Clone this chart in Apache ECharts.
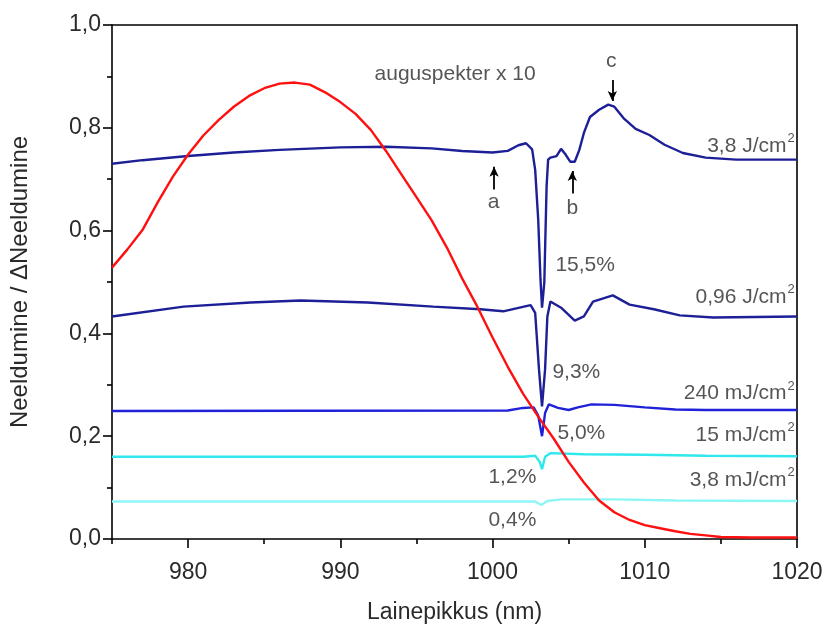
<!DOCTYPE html>
<html><head><meta charset="utf-8">
<script src="https://cdn.jsdelivr.net/npm/echarts@6/dist/echarts.min.js"></script>
<style>html,body{margin:0;padding:0;background:#fff}#c{width:831px;height:629px}</style>
</head><body><div id="c"></div>
<script>
// ---- data (wavelength nm, value) ----
const redX = [975,976,977,978,979,980,981,982,983,984,985,986,987,988,989,990,991,992,993,994,995,996,997,998,999,1000,1001,1002,1003,1004,1005,1006,1007,1008,1009,1010,1011,1012,1013,1014,1015,1017,1020];
const redY = [0.528,0.563,0.601,0.655,0.705,0.748,0.785,0.815,0.841,0.862,0.877,0.886,0.888,0.884,0.869,0.850,0.827,0.796,0.755,0.710,0.665,0.620,0.567,0.507,0.452,0.392,0.335,0.283,0.238,0.196,0.150,0.110,0.075,0.052,0.037,0.027,0.021,0.015,0.010,0.007,0.004,0.003,0.003];

const j38X = [975,977,980,983,986,990,993,996,998,1000,1001,1001.7,1002.2,1002.6,1002.8,1003.0,1003.15,1003.25,1003.4,1003.55,1003.65,1003.8,1004.2,1004.5,1004.8,1005.1,1005.4,1005.7,1006.0,1006.4,1007.0,1007.6,1008.0,1008.6,1009.4,1010.3,1011.3,1012.5,1014,1016,1020];
const j38Y = [0.730,0.737,0.745,0.752,0.757,0.762,0.763,0.760,0.755,0.752,0.755,0.766,0.770,0.758,0.718,0.621,0.505,0.450,0.499,0.686,0.738,0.742,0.745,0.759,0.748,0.734,0.734,0.757,0.790,0.821,0.835,0.845,0.841,0.819,0.798,0.786,0.767,0.751,0.742,0.738,0.738];

const j096X = [975,979.7,984.1,987.4,991.8,996.1,999.2,1000.7,1002.5,1002.8,1003.05,1003.25,1003.45,1003.6,1003.8,1004.5,1005.4,1006.0,1006.6,1007.9,1009.0,1010.6,1012.3,1014.5,1020];
const j096Y = [0.433,0.452,0.460,0.464,0.460,0.452,0.447,0.443,0.455,0.440,0.330,0.258,0.330,0.433,0.462,0.450,0.425,0.433,0.462,0.474,0.456,0.447,0.435,0.431,0.433];

const m240X = [975,1001,1002,1002.7,1003.0,1003.25,1003.45,1003.7,1004.3,1005,1005.6,1006.5,1008,1010,1012,1014,1020];
const m240Y = [0.249,0.250,0.255,0.256,0.240,0.200,0.245,0.262,0.255,0.251,0.256,0.262,0.261,0.256,0.252,0.251,0.251];

const m15X = [975,1002,1002.8,1003.1,1003.25,1003.45,1003.8,1006,1010,1014,1020];
const m15Y = [0.160,0.160,0.162,0.150,0.136,0.160,0.167,0.165,0.164,0.162,0.161];

const m38X = [975,1002.8,1003.2,1003.6,1004.5,1008,1012,1020];
const m38Y = [0.073,0.073,0.066,0.074,0.077,0.077,0.075,0.074];

const xMajorTicks = [980,990,1000,1010,1020];
const xMinorTicks = [975,985,995,1005,1015];

// annotation texts
const curveLabels = ['3,8 J/cm', '0,96 J/cm', '240 mJ/cm', '15 mJ/cm', '3,8 mJ/cm'];
const pctLabels = ['15,5%', '9,3%', '5,0%', '1,2%', '0,4%'];
const titleText = 'auguspekter x 10';
const arrowLetters = ['a', 'b', 'c'];

// ---- layout (annotation anchors in data coords) ----
const curveLabelPos = [[1019.85,0.765],[1019.85,0.470],[1019.85,0.283],[1019.85,0.202],[1019.85,0.115]];
const pctLabelPos = [[1004.13,0.532],[1003.93,0.324],[1004.26,0.206],[999.73,0.120],[999.73,0.037]];
const titlePos = [992.25,0.905];
const letterPos = [[1000.06,0.656],[1005.24,0.643],[1007.8,0.930]];
const arrowSegs = [[[1000.1,0.680],[1000.1,0.724]],[[1005.24,0.672],[1005.24,0.716]],[[1007.87,0.893],[1007.87,0.852]]];

const pairs = (xs, ys) => xs.map((x, i) => [x, ys[i]]);
const txt = '#2a2a2a';
const FONT = 'Liberation Sans, Arial, sans-serif';

function lineSeries(name, xs, ys, color) {
  return { name, type: 'line', data: pairs(xs, ys), showSymbol: false, symbol: 'none',
    lineStyle: { color, width: 2.4 }, silent: true, animation: false, z: 3 };
}

const annData = [];
curveLabels.forEach((t, i) => annData.push({ value: curveLabelPos[i],
  label: { formatter: '{t|' + t + '}{s|2}', align: 'right' } }));
pctLabels.forEach((t, i) => annData.push({ value: pctLabelPos[i],
  label: { formatter: '{t|' + t + '}', align: 'left' } }));
annData.push({ value: titlePos, label: { formatter: '{t|' + titleText + '}', align: 'left' } });
arrowLetters.forEach((t, i) => annData.push({ value: letterPos[i],
  label: { formatter: '{t|' + t + '}', align: 'center' } }));

const chart = echarts.init(document.getElementById('c'), null, { renderer: 'canvas' });
chart.setOption({
  backgroundColor: '#fff',
  animation: false,
  textStyle: { fontFamily: FONT },
  grid: { left: 111, right: 34, top: 25, bottom: 89, containLabel: false },
  xAxis: [
    { type: 'value', min: 975, max: 1020, position: 'bottom',
      name: 'Lainepikkus (nm)', nameLocation: 'middle', nameGap: 62,
      nameTextStyle: { fontSize: 23, color: txt, fontFamily: FONT },
      axisLine: { show: true, onZero: false, lineStyle: { color: '#000', width: 1.6 } },
      axisTick: { show: true, length: 9, customValues: xMajorTicks, lineStyle: { color: '#000', width: 1.6 } },
      axisLabel: { show: true, customValues: xMajorTicks, fontSize: 23, color: txt, margin: 22, fontFamily: FONT,
        formatter: v => String(v) },
      splitLine: { show: false } },
    { type: 'value', min: 975, max: 1020, position: 'bottom',
      axisLine: { show: false, onZero: false },
      axisTick: { show: true, length: 5, customValues: xMinorTicks, lineStyle: { color: '#000', width: 1.6 } },
      axisLabel: { show: false }, splitLine: { show: false } },
    { type: 'value', min: 975, max: 1020, position: 'top',
      axisLine: { show: true, onZero: false, lineStyle: { color: '#000', width: 1.6 } },
      axisTick: { show: false }, axisLabel: { show: false }, splitLine: { show: false } }
  ],
  yAxis: [
    { type: 'value', min: 0, max: 1, interval: 0.2, position: 'left',
      name: 'Neeldumine / ΔNeeldumine', nameLocation: 'middle', nameGap: 80, nameRotate: 90,
      nameTextStyle: { fontSize: 24, color: txt, fontFamily: FONT },
      axisLine: { show: true, onZero: false, lineStyle: { color: '#000', width: 1.6 } },
      axisTick: { show: true, length: 9, lineStyle: { color: '#000', width: 1.6 } },
      minorTick: { show: true, splitNumber: 2, length: 5, lineStyle: { color: '#000', width: 1.6 } },
      axisLabel: { fontSize: 23, color: txt, margin: 11, fontFamily: FONT,
        formatter: v => v.toFixed(1).replace('.', ',') },
      splitLine: { show: false }, minorSplitLine: { show: false } },
    { type: 'value', min: 0, max: 1, position: 'right',
      axisLine: { show: true, onZero: false, lineStyle: { color: '#000', width: 1.6 } },
      axisTick: { show: false }, axisLabel: { show: false }, splitLine: { show: false } }
  ],
  series: [
    lineSeries('3,8 mJ', m38X, m38Y, '#8ff6f6'),
    lineSeries('15 mJ', m15X, m15Y, '#2ee8ee'),
    lineSeries('240 mJ', m240X, m240Y, '#1f22d8'),
    lineSeries('0,96 J', j096X, j096Y, '#1c1f96'),
    lineSeries('3,8 J', j38X, j38Y, '#1c1f96'),
    lineSeries('auguspekter', redX, redY, '#ff1010'),
    { type: 'scatter', data: annData, symbolSize: 0, silent: true, z: 5,
      label: { show: true, position: 'inside', verticalAlign: 'middle', color: txt,
        rich: { t: { fontSize: 21, color: txt, fontFamily: FONT },
                s: { fontSize: 13, color: txt, fontFamily: FONT, padding: [0, 0, 15, 1] } } },
      markLine: { silent: true, symbol: ['none', 'arrow'], symbolSize: [7, 10],
        lineStyle: { color: '#000', width: 1.8, type: 'solid' }, label: { show: false },
        data: arrowSegs.map(s => [{ coord: s[0] }, { coord: s[1] }]) } }
  ]
});
</script>
</body></html>
